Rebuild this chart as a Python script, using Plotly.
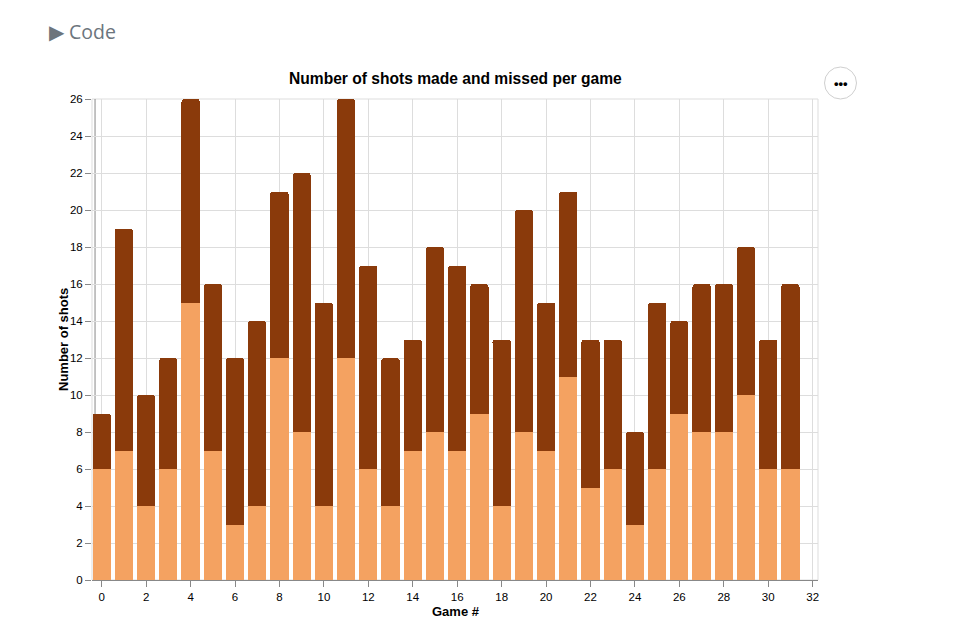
import plotly.graph_objects as go

games = list(range(32))
made = [6, 7, 4, 6, 15, 7, 3, 4, 12, 8, 4, 12, 6, 4, 7, 8,
        7, 9, 4, 8, 7, 11, 5, 6, 3, 6, 9, 8, 8, 10, 6, 6]
total = [9, 19, 10, 12, 26, 16, 12, 14, 21, 22, 15, 26, 17, 12, 13, 18,
         17, 16, 13, 20, 15, 21, 13, 13, 8, 15, 14, 16, 16, 18, 13, 16]
missed = [t - m for t, m in zip(total, made)]

LIGHT = "#f4a261"
DARK = "#8a3a0b"
FONT = "Liberation Sans, Arial, sans-serif"

# page offset from default body margin
OFF = 8
# plot area in page pixels
L, R, T, B = 92, 818, 99, 580
PW, PH = 960, 627
W, H = PW - OFF, PH - OFF

def px(x):
    return (x - L) / (R - L)

def py(y):
    return (B - y) / (B - T)

fig = go.Figure()
fig.add_trace(go.Bar(x=games, y=made, name="made", marker_color=LIGHT,
                     marker_line_width=0, width=0.82))
fig.add_trace(go.Bar(x=games, y=missed, name="missed", marker_color=DARK,
                     marker_line_width=0, width=0.82))

fig.update_layout(
    width=W, height=H,
    margin=dict(l=L - OFF, r=PW - R, t=T - OFF, b=PH - B, pad=0,
                autoexpand=False),
    barmode="stack",
    barcornerradius=3,
    showlegend=False,
    plot_bgcolor="white",
    paper_bgcolor="white",
    font=dict(family=FONT, size=11.5, color="#000"),
    xaxis=dict(range=[-0.437, 32.24], tick0=0, dtick=2, showgrid=True,
               gridcolor="#ddd", gridwidth=1, zeroline=False,
               showline=True, linecolor="#888", linewidth=1,
               ticks="outside", ticklen=6, tickcolor="#888",
               tickfont=dict(size=11.5, family=FONT, color="#000")),
    yaxis=dict(range=[0, 26], tick0=0, dtick=2, showgrid=True,
               gridcolor="#ddd", gridwidth=1, zeroline=False,
               showline=False, ticks="outside", ticklen=6,
               tickcolor="#888",
               tickfont=dict(size=11.5, family=FONT, color="#000")),
)

shapes = [
    dict(type="rect", xref="paper", yref="paper", x0=0, x1=1, y0=0, y1=1,
         line=dict(color="#ddd", width=1), fillcolor="rgba(0,0,0,0)",
         layer="below"),
    dict(type="line", xref="x", yref="y", x0=-0.30, x1=-0.30, y0=0, y1=26,
         line=dict(color="#888", width=1), layer="below"),
    dict(type="circle", xref="paper", yref="paper",
         x0=px(824.5), x1=px(856.5), y0=py(99), y1=py(67),
         line=dict(color="#cfcfcf", width=1), fillcolor="white",
         layer="above"),
]
fig.update_layout(shapes=shapes)

annotations = [
    dict(text="<b>Number of shots made and missed per game</b>",
         xref="paper", yref="paper", x=px(456), y=py(78),
         xanchor="center", yanchor="middle", showarrow=False,
         font=dict(size=15.6, family=FONT, color="#000")),
    dict(text="<b>Game #</b>", xref="paper", yref="paper",
         x=px(456), y=py(611.5), xanchor="center", yanchor="middle",
         showarrow=False, font=dict(size=13, family=FONT, color="#000")),
    dict(text="<b>Number of shots</b>", xref="paper", yref="paper",
         x=px(63), y=py(340), xanchor="center", yanchor="middle",
         textangle=-90, showarrow=False,
         font=dict(size=13, family=FONT, color="#000")),
    dict(text="\u25b6 Code", xref="paper", yref="paper",
         x=px(47), y=py(31), xanchor="left", yanchor="middle",
         showarrow=False,
         font=dict(size=19.5, family="Open Sans, sans-serif", color="#6c757d")),
    dict(text="<b>\u2022\u2022\u2022</b>", xref="paper", yref="paper",
         x=px(840.5), y=py(83), xanchor="center", yanchor="middle",
         showarrow=False, font=dict(size=13, family=FONT, color="#000")),
]
fig.update_layout(annotations=annotations)

fig.write_html("out.html")
